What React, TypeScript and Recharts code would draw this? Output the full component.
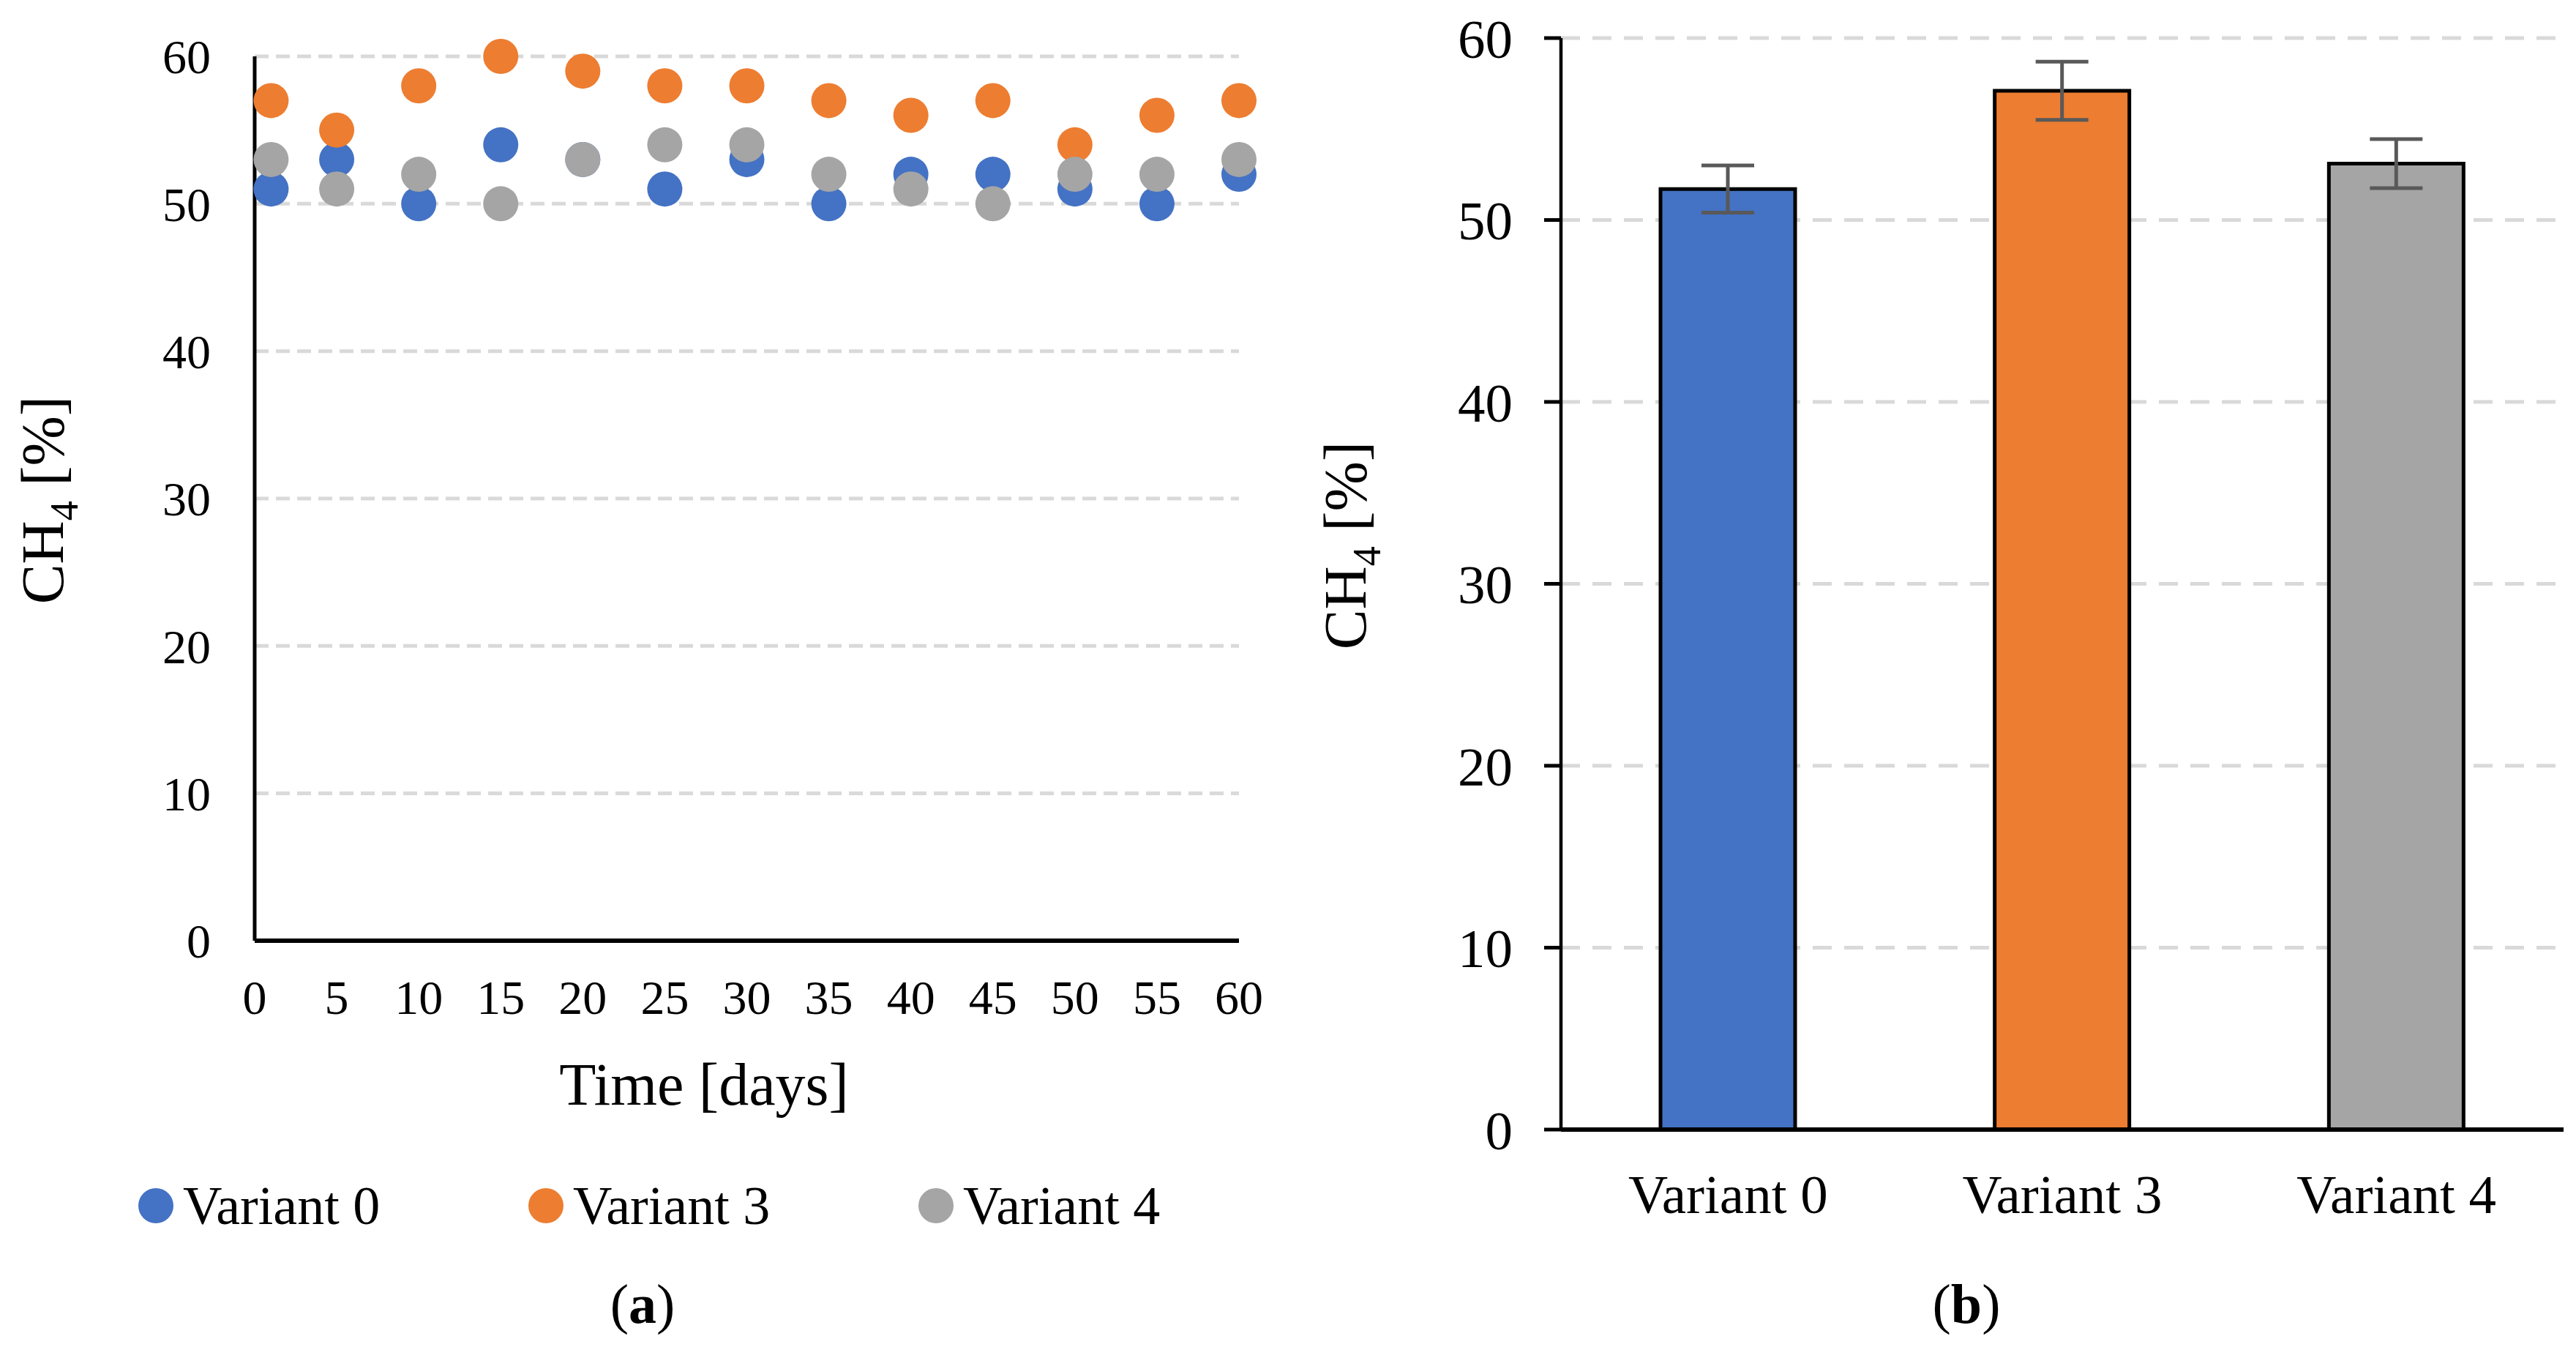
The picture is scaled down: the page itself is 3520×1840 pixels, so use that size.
import React from "react";
import {
  ScatterChart,
  Scatter,
  BarChart,
  Bar,
  Cell,
  ErrorBar,
  XAxis,
  YAxis,
  CartesianGrid,
} from "recharts";

const FONT = '"Liberation Serif", "Times New Roman", serif';

// (a) CH4 content over time
const days = [1, 5, 10, 15, 20, 25, 30, 35, 40, 45, 50, 55, 60];
const variant0 = [51, 53, 50, 54, 53, 51, 53, 50, 52, 52, 51, 50, 52];
const variant3 = [57, 55, 58, 60, 59, 58, 58, 57, 56, 57, 54, 56, 57];
const variant4 = [53, 51, 52, 50, 53, 54, 54, 52, 51, 50, 52, 52, 53];
const dayTicks = [0, 5, 10, 15, 20, 25, 30, 35, 40, 45, 50, 55, 60];
const pctTicks = [0, 10, 20, 30, 40, 50, 60];

// (b) mean CH4 per variant
const variants = ["Variant 0", "Variant 3", "Variant 4"];
const colors = ["#4472C4", "#ED7D31", "#A5A5A5"];
const meanCH4 = [51.7, 57.1, 53.1];
const sdCH4 = [1.3, 1.6, 1.35];

const toPoints = (vals: number[]) => days.map((d, i) => ({ day: d, ch4: vals[i] }));
const series = [variant0, variant3, variant4].map(toPoints);
const barData = variants.map((v, i) => ({ name: v, ch4: meanCH4[i], err: sdCH4[i] }));

const dot = (color: string) => (p: any) => <circle cx={p.cx} cy={p.cy} r={24} fill={color} />;

function AxisLabel({ x, y }: { x: number; y: number }) {
  return (
    <text transform={`translate(${x},${y}) rotate(-90)`} textAnchor="middle" fontSize={82} fontFamily={FONT} fill="#000">
      <tspan>CH</tspan>
      <tspan fontSize={54} dy={20}>4</tspan>
      <tspan dy={-20}> [%]</tspan>
    </text>
  );
}

export default function App() {
  const tickA = { fontSize: 66, fill: "#000", fontFamily: FONT };
  const tickB = { fontSize: 75, fill: "#000", fontFamily: FONT };
  return (
    <div style={{ position: "absolute", left: 0, top: 0, width: 3520, height: 1840, background: "#fff" }}>
      <div style={{ position: "absolute", left: 0, top: 0 }}>
        <ScatterChart width={1760} height={1440} margin={{ top: 77, right: 67, bottom: 0, left: 0 }}>
          <CartesianGrid vertical={false} stroke="#D9D9D9" strokeWidth={5} strokeDasharray="19 10" />
          <XAxis
            type="number"
            dataKey="day"
            domain={[0, 60]}
            ticks={dayTicks}
            height={155}
            tickLine={false}
            tickSize={0}
            tickMargin={53}
            axisLine={{ stroke: "#000", strokeWidth: 6 }}
            tick={tickA}
            interval={0}
          />
          <YAxis
            type="number"
            dataKey="ch4"
            domain={[0, 60]}
            ticks={pctTicks}
            width={348}
            tickLine={false}
            tickSize={0}
            tickMargin={60}
            axisLine={{ stroke: "#000", strokeWidth: 5 }}
            tick={tickA}
            interval={0}
          />
          {series.map((pts, i) => (
            <Scatter key={variants[i]} name={variants[i]} data={pts} fill={colors[i]} shape={dot(colors[i])} isAnimationActive={false} />
          ))}
        </ScatterChart>
      </div>
      <div style={{ position: "absolute", left: 1760, top: 0 }}>
        <BarChart width={1760} height={1700} data={barData} margin={{ top: 52, right: 17, bottom: 0, left: 0 }}>
          <CartesianGrid vertical={false} stroke="#D9D9D9" strokeWidth={5} strokeDasharray="26 17" />
          <XAxis
            dataKey="name"
            height={157}
            tickLine={false}
            tickSize={0}
            tickMargin={61}
            axisLine={{ stroke: "#000", strokeWidth: 6 }}
            tick={tickB}
            interval={0}
          />
          <YAxis
            domain={[0, 60]}
            ticks={pctTicks}
            width={373}
            tickSize={23}
            tickMargin={43}
            tickLine={{ stroke: "#000", strokeWidth: 5 }}
            axisLine={{ stroke: "#000", strokeWidth: 4.5 }}
            tick={tickB}
            interval={0}
          />
          <Bar dataKey="ch4" barSize={184} stroke="#000" strokeWidth={5} isAnimationActive={false}>
            {barData.map((d, i) => (
              <Cell key={d.name} fill={colors[i]} />
            ))}
            <ErrorBar dataKey="err" width={36} stroke="#595959" strokeWidth={5} direction="y" isAnimationActive={false} />
          </Bar>
        </BarChart>
      </div>
      <svg width={3520} height={1840} style={{ position: "absolute", left: 0, top: 0, pointerEvents: "none" }}>
        <AxisLabel x={86} y={683} />
        <AxisLabel x={1866} y={745} />
        <text x={962} y={1509} textAnchor="middle" fontSize={82} fontFamily={FONT}>
          Time [days]
        </text>
        {variants.map((v, i) => {
          const cx = [213, 746, 1279][i];
          return (
            <g key={v}>
              <circle cx={cx} cy={1647} r={24} fill={colors[i]} />
              <text x={cx + 37} y={1672} fontSize={74} fontFamily={FONT}>
                {v}
              </text>
            </g>
          );
        })}
        <text x={878} y={1807} textAnchor="middle" fontSize={76} fontFamily={FONT}>
          (<tspan fontWeight="bold">a</tspan>)
        </text>
        <text x={2687} y={1807} textAnchor="middle" fontSize={76} fontFamily={FONT}>
          (<tspan fontWeight="bold">b</tspan>)
        </text>
      </svg>
    </div>
  );
}
